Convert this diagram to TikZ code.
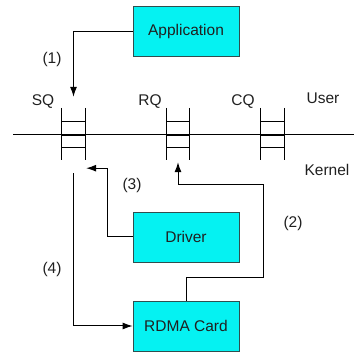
\documentclass[tikz,border=0pt]{standalone}
\usepackage{fontspec}
\setmainfont{Liberation Sans}
\usetikzlibrary{arrows.meta,positioning,calc}
\definecolor{rdcyan}{HTML}{05F2F2}
\definecolor{rdedge}{HTML}{2F4F4F}
\definecolor{rdtext}{HTML}{202020}

\begin{document}
\begin{tikzpicture}[x=1pt, y=-1pt, every node/.style={font=\fontsize{15.5}{18}\selectfont, text=rdtext},
    box/.style={draw=rdedge, line width=0.8pt, rectangle, fill=rdcyan, minimum width=106pt, minimum height=50pt, inner sep=0pt},
    queue/.style={rectangle, minimum width=23pt, minimum height=52pt, inner sep=0pt},
    flow/.style={line width=1pt, -{Latex[length=10pt,width=7pt]}}]
      \useasboundingbox (0,0) rectangle (354,352);
      \node[box] (app) at (186, 31.5) {Application};
      \node[box] (driver) at (186, 237) {Driver};
      \node[box] (card) at (186, 326) {RDMA Card};
      \node[queue] (sq) at (73.5, 134) {};
      \node[queue] (rq) at (178, 134) {};
      \node[queue] (cq) at (272.5, 134) {};
      \coordinate (lineL) at (13, 135);
      \coordinate (lineR) at (354, 135);
      \draw[line width=1pt] (lineL) -- (lineR);
      \foreach \q in {sq, rq, cq} {
        \draw[line width=1pt] (\q.north west) -- (\q.south west);
        \draw[line width=1pt] (\q.north east) -- (\q.south east);
        \foreach \f in {0.27, 0.52, 0.75}
          \draw[line width=1pt] ($(\q.north west)!\f!(\q.south west)$) -- ($(\q.north east)!\f!(\q.south east)$);
      }
      \node (sqlab) at (43, 102) {SQ};
      \node (rqlab) at (150, 102) {RQ};
      \node (cqlab) at (243, 102) {CQ};
      \node (user) at (323, 98) {User};
      \node (kernel) at (327, 170) {Kernel};
      \node (l1) at (52, 59) {(1)};
      \node (l2) at (293, 223) {(2)};
      \node (l3) at (132, 185) {(3)};
      \node (l4) at (52, 269) {(4)};
      \draw[flow] (app.west) -| ([yshift=11pt]sq.north);
      \draw[flow] (driver.west) -| ([xshift=22pt,yshift=-8pt]sq.south east) -- ([xshift=1pt,yshift=-8pt]sq.south east);
      \draw[flow] (card.north) -- ++(0,-23) -| (263, 185) -| ([yshift=-2pt]rq.south);
      \draw[flow] ([yshift=-13pt]sq.south) |- (card.west);
    \end{tikzpicture}
\end{document}
